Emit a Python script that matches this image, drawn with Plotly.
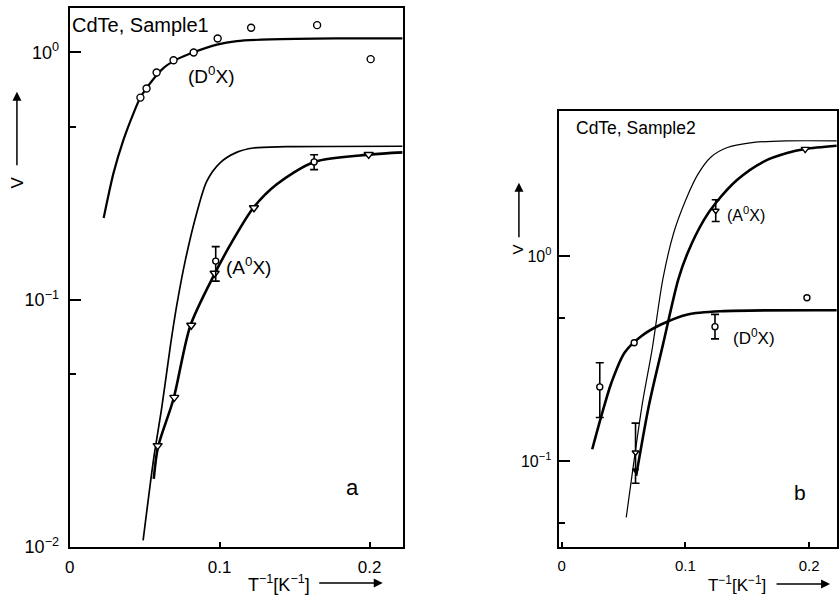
import plotly.graph_objects as go

# ---------------- Panel a (CdTe, Sample1) ----------------
a_d0x_x = [0.0472, 0.0513, 0.058, 0.0693, 0.0827, 0.0987, 0.121, 0.165, 0.2007]
a_d0x_y = [0.657, 0.715, 0.83, 0.93, 1.0, 1.14, 1.26, 1.29, 0.94]

a_a0x_x = [0.0587, 0.0698, 0.0811, 0.0967, 0.1229, 0.1994]
a_a0x_y = [0.0257, 0.0403, 0.0789, 0.128, 0.2355, 0.387]

a_err_x = [0.0974, 0.163]
a_err_y = [0.1434, 0.361]
a_err_hi = [0.164, 0.386]
a_err_lo = [0.119, 0.336]

a_d0x_fit_x = [0.0227, 0.0293, 0.036, 0.0427, 0.0471, 0.0538, 0.0627, 0.0715, 0.0827, 0.0982, 0.1115, 0.1338, 0.178, 0.222]
a_d0x_fit_y = [0.214, 0.326, 0.445, 0.570, 0.656, 0.753, 0.867, 0.938, 1.002, 1.076, 1.112, 1.130, 1.140, 1.140]

a_a0x_thin_x = [0.049, 0.056, 0.0616, 0.0672, 0.0715, 0.0771, 0.0848, 0.0914, 0.1003, 0.1113, 0.1224, 0.1445, 0.222]
a_a0x_thin_y = [0.01064, 0.0227, 0.0372, 0.0652, 0.0955, 0.1440, 0.2249, 0.3013, 0.3581, 0.3945, 0.4111, 0.4159, 0.4178]

a_a0x_fit_x = [0.0561, 0.0589, 0.0693, 0.0804, 0.0959, 0.1092, 0.1225, 0.1379, 0.1634, 0.1999, 0.222]
a_a0x_fit_y = [0.01888, 0.02535, 0.0398, 0.0783, 0.1247, 0.1754, 0.2355, 0.2924, 0.3614, 0.3864, 0.3945]

# ---------------- Panel b (CdTe, Sample2) ----------------
b_d0x_x = [0.0586, 0.1982]
b_d0x_y = [0.378, 0.627]
b_d0x_err_x = [0.0308, 0.1239]
b_d0x_err_y = [0.23, 0.453]
b_d0x_err_hi = [0.302, 0.52]
b_d0x_err_lo = [0.163, 0.395]

b_a0x_x = [0.1968]
b_a0x_y = [3.34]
b_a0x_err_x = [0.0597, 0.1245]
b_a0x_err_y = [0.11, 1.67]
b_a0x_err_hi = [0.153, 1.89]
b_a0x_err_lo = [0.0778, 1.48]
b_a0x_fill_x = [0.0597]
b_a0x_fill_y = [0.09]

b_d0x_fit_x = [0.0247, 0.0321, 0.0402, 0.0508, 0.0643, 0.0803, 0.1018, 0.1285, 0.2222]
b_d0x_fit_y = [0.114, 0.166, 0.241, 0.338, 0.407, 0.464, 0.520, 0.539, 0.545]

b_a0x_thin_x = [0.0522, 0.0651, 0.0731, 0.0817, 0.0905, 0.1005, 0.1098, 0.1205, 0.1339, 0.1553, 0.1821, 0.2222]
b_a0x_thin_y = [0.053, 0.189, 0.351, 0.769, 1.30, 1.90, 2.50, 3.05, 3.40, 3.60, 3.664, 3.664]

b_a0x_fit_x = [0.0602, 0.0707, 0.0819, 0.0942, 0.1018, 0.1151, 0.1245, 0.1419, 0.1633, 0.1821, 0.1968, 0.2222]
b_a0x_fit_y = [0.0845, 0.189, 0.371, 0.769, 1.039, 1.510, 1.821, 2.366, 2.904, 3.194, 3.342, 3.467]

x_tick_vals = [0, 0.1, 0.2]
x_tick_text = ["0", "0.1", "0.2"]
a_y_tick_vals = [0.01, 0.1, 1]
a_y_tick_text = ["10<sup>−2</sup>", "10<sup>−1</sup>", "10<sup>0</sup>"]
b_y_tick_vals = [0.1, 1]
b_y_tick_text = ["10<sup>−1</sup>", "10<sup>0</sup>"]
minor_vals = [0.05, 0.5]

FONT = "Liberation Sans, Arial, sans-serif"
W, H = 839, 599
HEFF = 590.0  # effective vertical size observed in the rendered page


def px(x):
    return x / W


def py(y):
    return 1 - y / HEFF


fig = go.Figure()


def line(x, y, w, xa, ya):
    fig.add_trace(go.Scatter(x=x, y=y, mode="lines", xaxis=xa, yaxis=ya,
                             line=dict(color="black", width=w, shape="spline", smoothing=0.8),
                             showlegend=False, hoverinfo="skip"))


def pts(x, y, sym, size, xa, ya, err=None, fill=False):
    kw = {}
    if err is not None:
        hi, lo = err
        kw["error_y"] = dict(type="data", symmetric=False,
                             array=[h - v for h, v in zip(hi, y)],
                             arrayminus=[v - l for v, l in zip(y, lo)],
                             color="black", thickness=1.6, width=4)
    fig.add_trace(go.Scatter(x=x, y=y, mode="markers", xaxis=xa, yaxis=ya,
                             marker=dict(symbol=sym, size=size,
                                         color="black" if fill else "white",
                                         line=dict(color="black", width=1.4)),
                             showlegend=False, hoverinfo="skip", **kw))


# Panel a
line(a_d0x_fit_x, a_d0x_fit_y, 2.2, "x", "y")
line(a_a0x_thin_x, a_a0x_thin_y, 1.7, "x", "y")
line(a_a0x_fit_x, a_a0x_fit_y, 2.6, "x", "y")
pts(a_d0x_x, a_d0x_y, "circle", 7, "x", "y")
pts(a_a0x_x, a_a0x_y, "triangle-down", 8, "x", "y")
pts(a_err_x, a_err_y, "circle", 6, "x", "y", err=(a_err_hi, a_err_lo))

# Panel b
line(b_d0x_fit_x, b_d0x_fit_y, 2.6, "x2", "y2")
line(b_a0x_thin_x, b_a0x_thin_y, 1.2, "x2", "y2")
line(b_a0x_fit_x, b_a0x_fit_y, 2.6, "x2", "y2")
pts(b_d0x_x, b_d0x_y, "circle", 6, "x2", "y2")
pts(b_d0x_err_x, b_d0x_err_y, "circle", 6, "x2", "y2", err=(b_d0x_err_hi, b_d0x_err_lo))
pts(b_a0x_x, b_a0x_y, "triangle-down", 7, "x2", "y2")
pts(b_a0x_err_x, b_a0x_err_y, "triangle-down", 6, "x2", "y2", err=(b_a0x_err_hi, b_a0x_err_lo))
pts(b_a0x_fill_x, b_a0x_fill_y, "triangle-down", 5, "x2", "y2", fill=True)

axis_common = dict(showline=True, linecolor="black", linewidth=2, mirror=True,
                   showgrid=False, zeroline=False, ticks="inside", tickcolor="black",
                   tickwidth=1.5)


def tf(size):
    return dict(family=FONT, size=size, color="black")


fig.update_layout(
    width=W, height=H, autosize=False, margin=dict(l=0, r=0, t=0, b=0),
    paper_bgcolor="white", plot_bgcolor="white",
    font=dict(family=FONT, color="black"),
    xaxis=dict(domain=[px(65), px(400)], range=[0, 0.222], anchor="y",
               tickmode="array", tickvals=x_tick_vals, ticktext=x_tick_text, ticklen=5,
               tickfont=tf(17), ticklabelstandoff=4, **axis_common),
    yaxis=dict(domain=[py(548), py(8)], type="log", range=[-2, 0.18], anchor="x",
               tickmode="array", tickvals=a_y_tick_vals, ticktext=a_y_tick_text, ticklen=11,
               tickfont=tf(18), ticklabelstandoff=5,
               minor=dict(tickvals=minor_vals, ticklen=6, ticks="inside", tickcolor="black", tickwidth=1.5),
               **axis_common),
    xaxis2=dict(domain=[px(557), px(837)], range=[-0.0024, 0.2225], anchor="y2",
                tickmode="array", tickvals=x_tick_vals, ticktext=x_tick_text, ticklen=5,
                tickfont=tf(15), ticklabelstandoff=4, **axis_common),
    yaxis2=dict(domain=[py(548), py(111)], type="log", range=[-1.421, 0.711], anchor="x2",
                tickmode="array", tickvals=b_y_tick_vals, ticktext=b_y_tick_text, ticklen=11,
                tickfont=tf(16), ticklabelstandoff=2,
                minor=dict(tickvals=minor_vals, ticklen=6, ticks="inside", tickcolor="black", tickwidth=1.5),
                **axis_common),
)


def txt(x, y, s, size, xanchor="left", angle=0):
    fig.add_annotation(x=px(x), y=py(y), xref="paper", yref="paper", text=s,
                       showarrow=False, xanchor=xanchor, yanchor="middle", textangle=angle,
                       borderpad=0, font=dict(family=FONT, size=size, color="black"))


def arrow(x, y, ax, ay):
    fig.add_annotation(x=px(x), y=py(y), xref="paper", yref="paper", text="",
                       showarrow=True, ax=ax, ay=ay, arrowhead=2, arrowsize=1.2,
                       arrowwidth=1.5, arrowcolor="black")


# Panel a texts
txt(66, 25, "CdTe, Sample1", 20)
txt(183, 75, "(D<sup>0</sup>X)", 19)
txt(221, 266, "(A<sup>0</sup>X)", 19)
txt(350, 488, "a", 22, xanchor="center")
txt(13, 183, "V", 17, xanchor="center", angle=-90)
arrow(12, 92, 0, 75)
txt(243, 584, "T<sup>−1</sup>[K<sup>−1</sup>]", 18)
arrow(380, 584, -65, 0)

# Panel b texts
txt(573, 128, "CdTe, Sample2", 17.5)
txt(725, 214, "(A<sup>0</sup>X)", 16)
txt(731, 338, "(D<sup>0</sup>X)", 17)
txt(800, 493, "b", 21, xanchor="center")
txt(516, 250, "V", 15, xanchor="center", angle=-90)
arrow(517, 183, 0, 56)
txt(706, 585, "T<sup>−1</sup>[K<sup>−1</sup>]", 17)
arrow(830, 585, -55, 0)

fig.write_html("out.html",
               config={"displayModeBar": False, "responsive": False},
               post_script="document.body.style.margin='0';document.body.style.overflow='hidden';")
